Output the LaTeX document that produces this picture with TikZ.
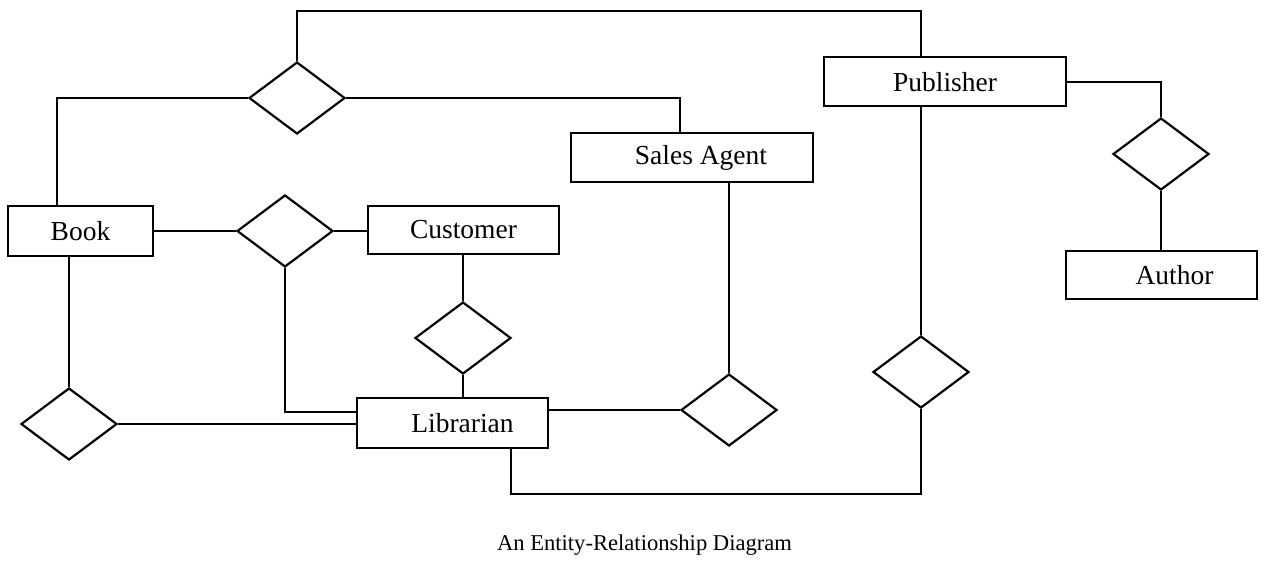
\documentclass[tikz,border=0pt]{standalone}
\usepackage{fontspec}
\setmainfont{Liberation Serif}
\usetikzlibrary{shapes.geometric,calc}
\tikzset{
  entity/.style={draw, line width=2pt, rectangle, inner sep=0pt, minimum height=49pt, font=\fontsize{27.5}{30}\selectfont},
  rel/.style={draw, line width=2.2pt, diamond, inner sep=0pt, minimum width=96pt, minimum height=72pt},
  conn/.style={line width=2pt}
}
\begin{document}
\begin{tikzpicture}[x=1pt,y=-1pt]
\useasboundingbox (0,0) rectangle (1266,564);
% entities
\node[entity, minimum width=145pt] (book) at (80.5,231) {Book};
\node[entity, minimum width=191pt, minimum height=48pt] (cust) at (463.5,230) {Customer};
\node[entity, minimum width=242pt] (sales) at (692,157.5) {\hspace*{18pt}Sales Agent};
\node[entity, minimum width=242pt] (pub) at (945,82) {Publisher};
\node[entity, minimum width=191pt, minimum height=48pt] (author) at (1161.5,275) {\hspace*{26pt}Author};
\node[entity, minimum width=191pt, minimum height=50pt] (lib) at (452.5,423) {\hspace*{20pt}Librarian};
% relationships
\node[rel] (d1) at (297,98) {};
\node[rel] (d2) at (285,231) {};
\node[rel] (d3) at (463,338) {};
\node[rel] (d4) at (69,424) {};
\node[rel] (d5) at (729,410) {};
\node[rel] (d6) at (921,372) {};
\node[rel] (d7) at (1161,154) {};
\coordinate (top) at (0,11);
\coordinate (bot) at (0,494);
% connectors
\draw[conn] (d1.north) |- (top -| d6) -- (d6 |- pub.north);
\draw[conn] (d1.west) -| ($(book.north)+(-23.5,0)$);
\draw[conn] (d1.east) -| ($(sales.north)+(-12,0)$);
\draw[conn] (book.east) -- (d2.west);
\draw[conn] (d2.east) -- (d2.east -| cust.west);
\draw[conn] (d4 |- book.south) -- (d4.north);
\draw[conn] (d4.east) -- (d4.east -| lib.west);
\draw[conn] (d2.south) |- ($(lib.west)+(0,-11)$);
\draw[conn] (d3 |- cust.south) -- (d3.north);
\draw[conn] (d3.south) -- (d3 |- lib.north);
\draw[conn] (d5.west -| lib.east) -- (d5.west);
\draw[conn] (d5 |- sales.south) -- (d5.north);
\draw[conn] ($(lib.south)+(58.5,0)$) |- (bot -| d6) -- (d6.south);
\draw[conn] (d6 |- pub.south) -- (d6.north);
\draw[conn] (pub.east) -| (d7.north);
\draw[conn] (d7.south) -- (d7 |- author.north);
% caption
\node[font=\fontsize{22.6}{26}\selectfont, anchor=base] (cap) at (644.5,550) {An Entity-Relationship Diagram};
\end{tikzpicture}
\end{document}
